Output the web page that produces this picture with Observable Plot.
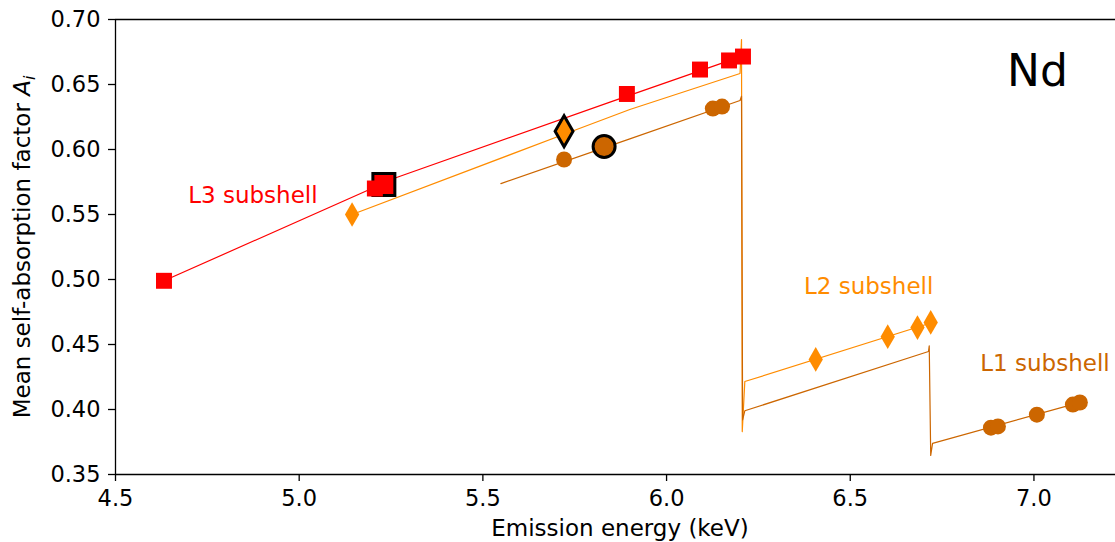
<!DOCTYPE html>
<html><head><meta charset="utf-8">
<script src="https://cdn.jsdelivr.net/npm/d3@7"></script>
<script src="https://cdn.jsdelivr.net/npm/@observablehq/plot@0.6"></script>
<style>body{margin:0;background:#fff} svg{display:block}</style>
</head><body><div id="chart"></div>
<script>
// ---- data ----
const xTicks = [4.5, 5.0, 5.5, 6.0, 6.5, 7.0];
const yTicks = [0.35, 0.40, 0.45, 0.50, 0.55, 0.60, 0.65, 0.70];

// measured points (markers)
const l3E = [4.632, 5.206, 5.232, 5.892, 6.091, 6.170, 6.208];
const l3A = [0.499, 0.570, 0.5736, 0.6427, 0.6615, 0.6685, 0.6715];
const l2E = [5.144, 5.721, 6.406, 6.602, 6.683, 6.719];
const l2A = [0.550, 0.613, 0.4385, 0.456, 0.463, 0.467];
const l1E = [5.721, 5.830, 6.126, 6.151, 6.883, 6.902, 7.008, 7.106, 7.125];
const l1A = [0.5923, 0.6023, 0.6315, 0.633, 0.386, 0.387, 0.396, 0.4038, 0.4054];

// highlighted points (black outline)
const hlL3 = {e: 5.2305, a: 0.573};
const hlL2 = {e: 5.721, a: 0.614};
const hlL1 = {e: 5.830, a: 0.6023};

// model curves
const l3CurveE = [4.632, 5.265, 5.846, 6.151, 6.207];
const l3CurveA = [0.499, 0.5785, 0.6364, 0.6664, 0.6715];
const l2CurveE = [5.144, 5.721, 5.900, 6.200, 6.204, 6.206, 6.213, 6.719];
const l2CurveA = [0.550, 0.6117, 0.6308, 0.6585, 0.6846, 0.383, 0.4215, 0.4665];
const l1CurveE = [5.549, 5.900, 6.200, 6.204, 6.207, 6.213, 6.713, 6.715, 6.719, 6.724, 7.133];
const l1CurveA = [0.5738, 0.6082, 0.6377, 0.641, 0.392, 0.399, 0.4446, 0.449, 0.3646, 0.374, 0.406];

const shells = ["L3", "L2", "L1"];
const shellLabels = ["L3 subshell", "L2 subshell", "L1 subshell"];
const labelE = [4.874, 6.550, 7.030];
const labelA = [0.5646, 0.4946, 0.4354];
const element = "Nd";
const elementE = 7.0096, elementA = 0.660;

const colors = {L3: "#ff0000", L2: "#ff8c00", L1: "#cc6600"};

// ---- tables ----
const tab = (E, A, s) => E.map((e, i) => ({e, a: A[i], s}));
const curves = [...tab(l3CurveE, l3CurveA, "L3"), ...tab(l2CurveE, l2CurveA, "L2"), ...tab(l1CurveE, l1CurveA, "L1")];
const l3pts = tab(l3E, l3A, "L3"), l2pts = tab(l2E, l2A, "L2"), l1pts = tab(l1E, l1A, "L1");
const labels = shellLabels.map((t, i) => ({t, e: labelE[i], a: labelA[i], s: shells[i]}));

const font = "DejaVu Sans";
const chart = Plot.plot({
  width: 1115, height: 542,
  marginLeft: 115, marginRight: 0, marginTop: 19, marginBottom: 68,
  style: {fontFamily: font, fontSize: "22.5px", color: "#000", background: "#fff", overflow: "visible"},
  x: {domain: [4.5, 7.222], label: null},
  y: {domain: [0.35, 0.70], label: null},
  marks: [
    Plot.axisX({ticks: xTicks, tickFormat: d => d.toFixed(1), tickSize: 7, tickPadding: 9, strokeWidth: 1.3, label: null}),
    Plot.axisY({ticks: yTicks, tickFormat: d => d.toFixed(2), tickSize: 7, tickPadding: 8, strokeWidth: 1.3, label: null}),
    Plot.ruleY([0.35, 0.70], {stroke: "#000", strokeWidth: 1.3}),
    Plot.ruleX([4.5], {stroke: "#000", strokeWidth: 1.3}),
    Plot.line(curves, {x: "e", y: "a", z: "s", stroke: d => colors[d.s], strokeWidth: 1.2, curve: "linear"}),
    Plot.dot([hlL3], {x: "e", y: "a", symbol: "square", fill: colors.L3, stroke: "#000", strokeWidth: 3, r: 12.4}),
    Plot.dot([hlL2], {x: "e", y: "a", symbol: "diamond", fill: colors.L2, stroke: "#000", strokeWidth: 3, r: 9.4}),
    Plot.dot([hlL1], {x: "e", y: "a", symbol: "circle", fill: colors.L1, stroke: "#000", strokeWidth: 3, r: 11}),
    Plot.dot(l3pts, {x: "e", y: "a", symbol: "square", fill: colors.L3, r: 9}),
    Plot.dot(l2pts.filter((d, i) => i !== 1), {x: "e", y: "a", symbol: "diamond", fill: colors.L2, r: 7.5}),
    Plot.dot(l1pts.filter((d, i) => i !== 1), {x: "e", y: "a", symbol: "circle", fill: colors.L1, r: 8}),
    Plot.text(labels, {x: "e", y: "a", text: "t", fill: d => colors[d.s], fontSize: 23, textAnchor: "middle"}),
    Plot.text([element], {x: elementE, y: elementA, text: d => d, fill: "#000", fontSize: 44, textAnchor: "middle"})
  ]
});

const svg = d3.select(chart);
svg.append("text")
  .attr("x", 620).attr("y", 536)
  .attr("text-anchor", "middle")
  .attr("font-family", font).attr("font-size", 23).attr("fill", "#000")
  .text("Emission energy (keV)");
const yl = svg.append("text")
  .attr("transform", "translate(30,247) rotate(-90)")
  .attr("text-anchor", "middle")
  .attr("font-family", font).attr("font-size", 23).attr("fill", "#000");
yl.append("tspan").text("Mean self-absorption factor ");
yl.append("tspan").attr("font-style", "italic").text("A");
yl.append("tspan").attr("font-style", "italic").attr("font-size", 16).attr("dy", 5).text("i");
document.getElementById("chart").appendChild(chart);
</script>
</body></html>
